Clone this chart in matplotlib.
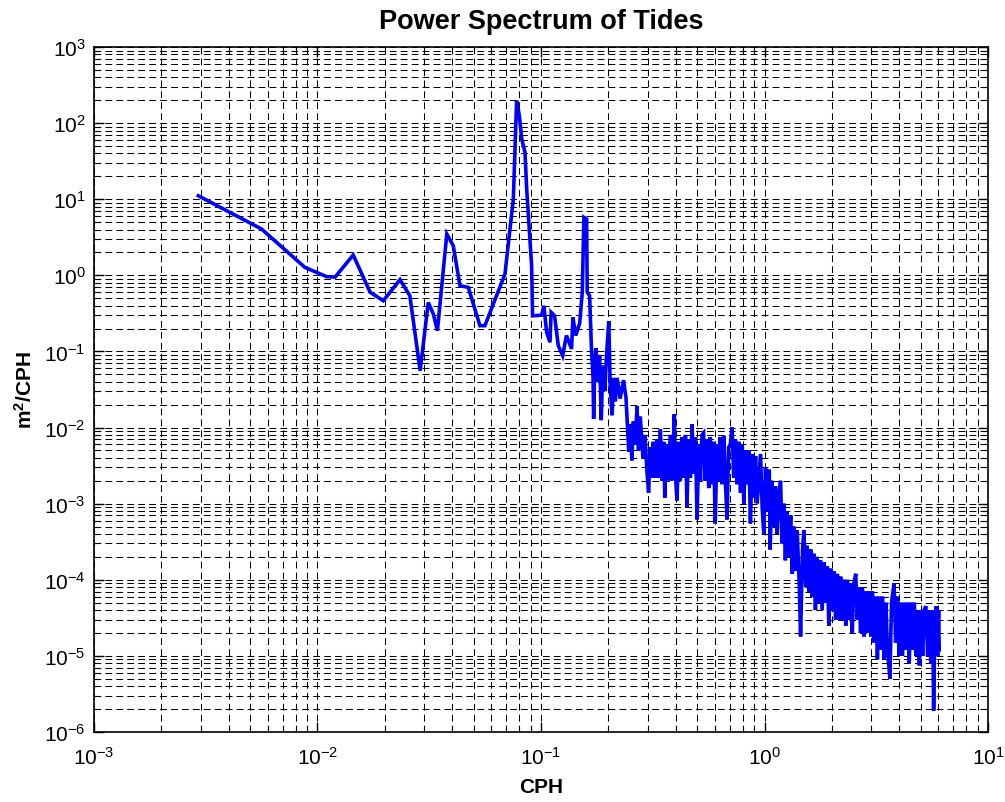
import matplotlib
matplotlib.use("Agg")
from matplotlib import pyplot as plt
from matplotlib.ticker import LogLocator, NullFormatter

plt.rcParams["font.family"] = ["Liberation Sans", "DejaVu Sans"]
plt.rcParams["mathtext.default"] = "regular"

# frequency (CPH) and power (m^2/CPH)
# smooth low-frequency part
freq_low = [0.00293, 0.00562, 0.00879, 0.0110, 0.0120, 0.01445, 0.0172, 0.0197,
            0.0234, 0.0259, 0.0288, 0.0313, 0.0330, 0.0344, 0.0379, 0.0405,
            0.0434, 0.0473, 0.0533, 0.0561, 0.0690, 0.0752, 0.0778, 0.0800,
            0.0820, 0.0848, 0.0863, 0.0908, 0.0917, 0.1007, 0.103, 0.106,
            0.1097, 0.111, 0.115, 0.1195, 0.125, 0.130, 0.137, 0.139, 0.143,
            0.149, 0.153, 0.1556, 0.160, 0.161, 0.165, 0.168, 0.171]
power_low = [11.1, 4.06, 1.27, 0.96, 0.95, 1.85, 0.60, 0.464,
             0.877, 0.54, 0.0558, 0.44, 0.31, 0.187, 3.49, 2.45,
             0.73, 0.695, 0.218, 0.218, 1.04, 10.07, 197, 125,
             61.8, 41.3, 13.6, 1.34, 0.294, 0.30, 0.398, 0.178,
             0.132, 0.327, 0.294, 0.119, 0.088, 0.162, 0.108, 0.28, 0.162,
             0.235, 0.60, 5.78, 5.5, 0.60, 0.54, 0.119, 0.0434]

# noisy high-frequency part
freq_high = [0.172, 0.174, 0.176, 0.179, 0.183, 0.186, 0.189, 0.193, 0.196, 0.201,
             0.204, 0.208, 0.211, 0.215, 0.219, 0.226, 0.234, 0.240, 0.243, 0.247,
             0.251, 0.255, 0.259, 0.264, 0.269, 0.273, 0.278, 0.286, 0.292, 0.298,
             0.303, 0.308, 0.313, 0.318, 0.324, 0.330, 0.336, 0.342, 0.348, 0.354,
             0.358, 0.363, 0.369, 0.379, 0.384, 0.391, 0.395, 0.399, 0.406, 0.413,
             0.420, 0.428, 0.436, 0.443, 0.450, 0.457, 0.466, 0.474, 0.482, 0.491,
             0.499, 0.508, 0.517, 0.525, 0.534, 0.543, 0.553, 0.563, 0.572, 0.582,
             0.592, 0.602, 0.613, 0.624, 0.634, 0.645, 0.657, 0.668, 0.680, 0.691,
             0.703, 0.716, 0.728, 0.741, 0.754, 0.768, 0.781, 0.795, 0.808, 0.822,
             0.836, 0.851, 0.865, 0.881, 0.896, 0.912, 0.927, 0.960, 0.976, 0.993,
             1.01, 1.03, 1.05, 1.06, 1.08, 1.10, 1.12, 1.14, 1.16, 1.18,
             1.20, 1.22, 1.24, 1.26, 1.28, 1.31, 1.33, 1.35, 1.38, 1.40,
             1.43, 1.45, 1.48, 1.50, 1.53, 1.55, 1.58, 1.61, 1.63, 1.66,
             1.69, 1.72, 1.75, 1.78, 1.81, 1.85, 1.88, 1.91, 1.94, 1.98,
             2.01, 2.05, 2.08, 2.12, 2.16, 2.19, 2.23, 2.27, 2.31, 2.35,
             2.39, 2.43, 2.47, 2.51, 2.56, 2.60, 2.65, 2.69, 2.74, 2.79,
             2.84, 2.89, 2.94, 2.99, 3.04, 3.09, 3.15, 3.20, 3.26, 3.32,
             3.37, 3.43, 3.49, 3.55, 3.64, 3.70, 3.80, 3.86, 3.93, 4.00,
             4.07, 4.14, 4.22, 4.29, 4.37, 4.44, 4.52, 4.60, 4.68, 4.76,
             4.84, 4.93, 5.01, 5.10, 5.18, 5.27, 5.37, 5.46, 5.55, 5.65,
             5.71, 5.79, 5.87, 5.95, 6.01, 6.05]
power_high = [0.013, 0.06, 0.11, 0.04, 0.09, 0.0125, 0.065, 0.03, 0.08, 0.25,
              0.035, 0.0145, 0.045, 0.022, 0.045, 0.024, 0.042, 0.025, 0.012, 0.0048,
              0.011, 0.0037, 0.012, 0.006, 0.019, 0.005, 0.014, 0.004, 0.008, 0.0026,
              0.0014, 0.0055, 0.0022, 0.0065, 0.0022, 0.0070, 0.0022, 0.0095, 0.0020, 0.0065,
              0.0012, 0.0060, 0.0020, 0.0080, 0.0020, 0.0065, 0.0150, 0.0025, 0.0011, 0.0065,
              0.0020, 0.0075, 0.0022, 0.0080, 0.0009, 0.0070, 0.0022, 0.0110, 0.0025, 0.0075,
              0.00062, 0.0060, 0.0020, 0.0080, 0.0085, 0.0020, 0.0070, 0.0016, 0.0075, 0.0018,
              0.0065, 0.00055, 0.0060, 0.0020, 0.0075, 0.0018, 0.0078, 0.0020, 0.00062, 0.0055,
              0.0060, 0.0100, 0.0022, 0.0070, 0.0018, 0.0065, 0.0014, 0.0060, 0.0010, 0.0050,
              0.0018, 0.0050, 0.00055, 0.0045, 0.0012, 0.0042, 0.0010, 0.0045, 0.0009, 0.0004,
              0.0030, 0.0008, 0.0028, 0.00025, 0.0020, 0.0005, 0.0017, 0.0004, 0.0013, 0.0020,
              0.0003, 0.0010, 0.00018, 0.0008, 0.0002, 0.0007, 0.00012, 0.0005, 0.00013, 0.00045,
              0.00009, 0.000018, 0.00025, 0.00045, 0.00008, 0.00028, 0.00007, 0.00025, 0.00006, 0.00022,
              0.00004, 0.00020, 0.00005, 0.00018, 0.00004, 0.00017, 0.00005, 0.00015, 0.000025, 0.00014,
              0.00004, 0.00013, 0.00003, 0.00012, 0.00003, 0.00011, 0.00003, 0.00010, 0.000025, 0.00010,
              0.00003, 0.00009, 0.00002, 0.00009, 0.00012, 0.00003, 0.00008, 0.00002, 0.00008, 0.000018,
              0.00007, 0.00002, 0.00007, 0.000018, 0.00007, 0.000015, 0.00006, 0.000009, 0.00006, 0.000012,
              0.00006, 0.000009, 0.00005, 0.000012, 0.000005, 0.00005, 0.00009, 0.000015, 0.00006, 0.00001,
              0.00005, 0.00001, 0.00005, 0.000012, 0.00005, 0.000008, 0.00005, 0.000012, 0.00005, 0.00001,
              0.00004, 0.0000075, 0.00004, 0.00001, 0.00004, 0.000045, 0.00001, 0.00004, 0.000008, 0.00004,
              0.0000019, 0.00003, 0.000045, 0.00001, 0.00004, 0.000012]

freq = freq_low + freq_high
power = power_low + power_high

fig = plt.figure(figsize=(10.05, 8.03), dpi=100)
ax = fig.add_axes([0.0935, 0.0872, 0.8896, 0.8530])

ax.loglog(freq, power, color="#0000ff", linewidth=2.6, solid_joinstyle="miter")

ax.set_xlim(1e-3, 1e1)
ax.set_ylim(1e-6, 1e3)

ax.xaxis.set_major_locator(LogLocator(base=10, numticks=20))
ax.yaxis.set_major_locator(LogLocator(base=10, numticks=20))
ax.xaxis.set_minor_locator(LogLocator(base=10, subs=range(2, 10), numticks=20))
ax.yaxis.set_minor_locator(LogLocator(base=10, subs=range(2, 10), numticks=20))
ax.xaxis.set_minor_formatter(NullFormatter())
ax.yaxis.set_minor_formatter(NullFormatter())

#Gridlines, matlab style
ax.grid(True, which="both", axis="both", color="black",
        linestyle=(0, (6.5, 4)), linewidth=0.75)
ax.set_axisbelow(True)

ax.tick_params(which="both", direction="in", top=True, right=True, color="black")
ax.tick_params(which="major", length=7, width=1, labelsize=15)
ax.tick_params(axis="x", which="major", pad=10)
ax.tick_params(axis="y", which="major", pad=6)
ax.tick_params(which="minor", length=4, width=0.8)
for s in ax.spines.values():
    s.set_linewidth(1.2)

#Title and labels
ax.set_title("Power Spectrum of Tides", fontsize=19.5, fontweight="bold", pad=14)
ax.set_xlabel("CPH", fontsize=15, fontweight="bold", labelpad=7)
ax.set_ylabel("m$^2$/CPH", fontsize=15, fontweight="bold", labelpad=6)

fig.savefig("out.png", dpi=100)
